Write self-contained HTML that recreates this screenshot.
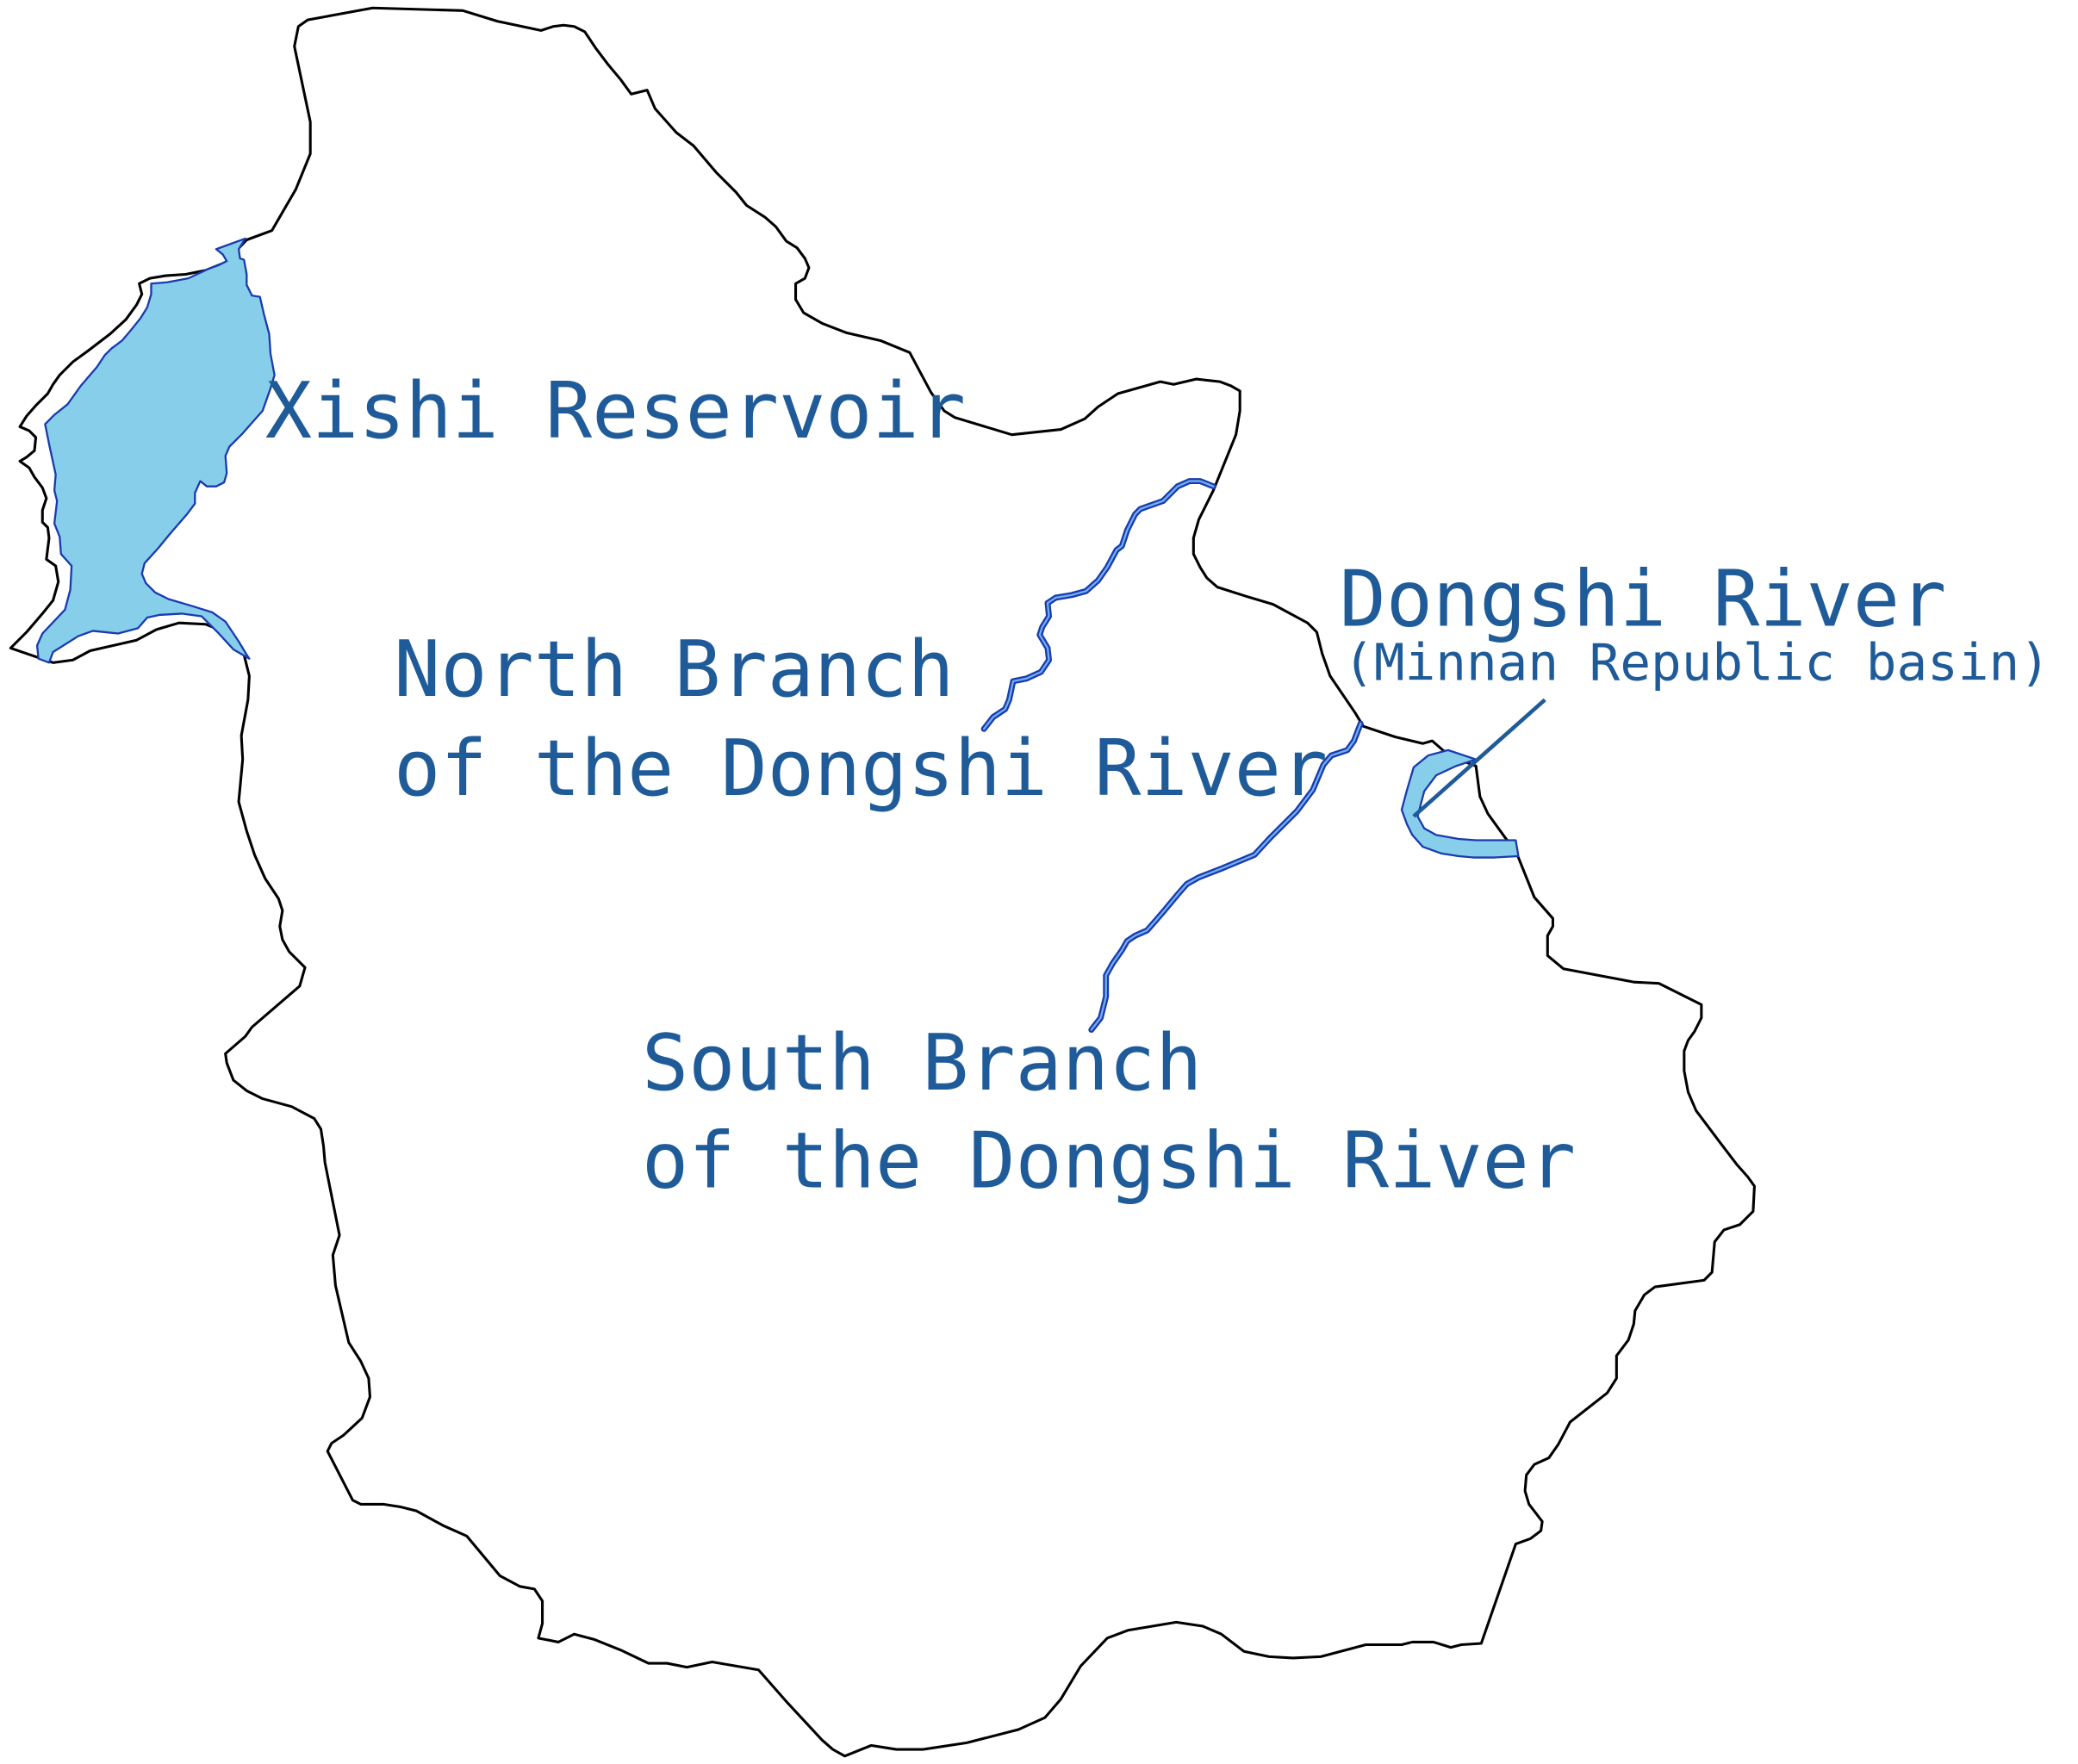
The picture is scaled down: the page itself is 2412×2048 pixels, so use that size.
<!DOCTYPE html>
<html><head><meta charset="utf-8"><style>
html,body{margin:0;padding:0;background:#fff;}
svg{display:block;}
text{font-family:"DejaVu Sans Mono","Liberation Mono",monospace;fill:#1f5b99;}
</style></head><body>
<svg width="2412" height="2048" viewBox="0 0 1567 1331" preserveAspectRatio="none" xmlns="http://www.w3.org/2000/svg">
<polygon fill="#fff" stroke="#000" stroke-width="2" stroke-linejoin="round" points="8,489 40,500 55,498 68,491 103,483 118,475 135,470 155,471 170,477 183,490 188,510 187,528 182,555 183,573 180,605 186,627 192,645 200,663 210,678 213,687 211,699 213,709 218,718 230,730 226,744 190,775 185,782 170,795 171,802 176,815 186,823 198,829 220,835 237,844 242,852 244,865 245,877 256,932 251,947 253,970 263,1013 272,1027 278,1040 279,1054 273,1070 259,1083 250,1089 247,1095 266,1132 272,1135 289,1135 302,1137 314,1140 334,1151 352,1159 377,1189 392,1197 403,1199 409,1208 409,1225 406,1236 421,1239 433,1233 448,1237 468,1245 489,1255 503,1255 518,1258 537,1254 572,1260 594,1285 620,1313 628,1320 637,1325 657,1317 676,1320 696,1320 729,1315 768,1305 788,1296 800,1282 815,1257 835,1236 851,1230 887,1224 907,1227 921,1233 938,1246 957,1250 975,1251 996,1250 1030,1241 1057,1241 1065,1239 1081,1239 1094,1243 1102,1241 1117,1240 1143,1165 1154,1161 1162,1155 1163,1148 1153,1135 1150,1125 1151,1113 1157,1105 1168,1100 1175,1090 1184,1073 1212,1051 1219,1040 1219,1023 1228,1011 1232,999 1233,989 1240,977 1248,971 1285,966 1291,960 1293,937 1300,928 1312,924 1322,914 1323,895 1318,888 1310,879 1297,862 1279,838 1273,824 1270,808 1270,793 1273,785 1278,778 1283,768 1283,758 1251,742 1232,741 1179,731 1167,721 1167,706 1171,699 1171,693 1157,677 1143,642 1135,632 1122,614 1116,601 1113,578 1100,573 1088,566 1080,559 1073,561 1052,556 1028,548 1022,538 1003,510 997,493 993,477 986,470 960,456 940,450 918,443 910,436 905,428 900,418 900,406 904,392 915,370 932,328 935,310 935,295 928,291 920,288 902,286 885,290 875,288 843,297 828,307 818,316 800,324 763,328 720,315 712,310 702,296 686,266 664,257 638,251 620,244 606,236 600,226 600,214 607,210 610,202 607,195 601,187 593,182 585,171 577,164 563,155 555,145 540,130 523,110 510,100 494,82 488,68 476,71 468,60 458,48 449,36 441,24 433,20 425,19 417,20 408,23 375,16 349,8 281,6 232,15 225,20 222,35 234,92 234,116 223,143 205,174 186,181 170,198 155,204 140,207 125,208 113,210 105,214 107,222 103,230 95,241 83,252 66,265 55,273 45,283 40,290 36,297 27,306 20,314 15,322 22,325 27,330 26,340 20,345 15,348 22,353 26,360 32,368 35,376 32,385 32,394 36,398 37,406 35,422 42,427 44,439 40,453 32,463 20,477"/>
<polygon fill="#87ceeb" stroke="#1a3ab0" stroke-width="1.5" stroke-linejoin="round" points="163,188 185,180 180,188 181,195 184,196 186,207 186,215 190,223 196,224 199,237 203,252 204,267 207,283 204,293 198,310 190,319 183,327 173,337 170,344 171,357 169,364 163,367 156,367 151,363 147,372 147,380 141,388 128,403 119,414 109,425 107,433 110,440 117,447 127,452 144,457 160,462 170,469 180,484 186,494 188,497 176,490 165,478 152,465 137,463 120,464 111,466 104,474 89,478 70,476 59,480 40,492 37,500 29,497 28,487 32,478 49,460 53,445 54,427 46,418 45,405 41,395 43,378 41,370 42,358 37,335 34,320 41,313 51,305 61,291 73,277 79,268 84,263 92,257 98,250 106,240 111,232 114,222 114,214 126,213 142,210 157,203 165,200 171,197 168,192"/>
<polygon fill="#87ceeb" stroke="#1a3ab0" stroke-width="1.5" stroke-linejoin="round" points="1092,566 1113,573 1098,578 1083,585 1074,597 1069,616 1074,625 1083,630 1100,633 1113,634 1143,634 1145,646 1127,647 1111,647 1100,646 1087,644 1073,639 1065,630 1061,622 1057,611 1061,596 1066,579 1077,570"/>
<g fill="none" stroke-linejoin="round" stroke-linecap="round">
<polyline stroke="#1a3ab0" stroke-width="4.5" points="742,550 749,541 758,535 761,528 764,514 774,512 785,507 791,498 790,489 784,479 786,473 791,465 790,455 796,451 808,449 819,446 828,438 835,428 842,415 846,412 850,400 856,388 860,384 877,378 888,367 897,363 905,363 915,367"/>
<polyline stroke="#6fb0ee" stroke-width="1.5" points="742,550 749,541 758,535 761,528 764,514 774,512 785,507 791,498 790,489 784,479 786,473 791,465 790,455 796,451 808,449 819,446 828,438 835,428 842,415 846,412 850,400 856,388 860,384 877,378 888,367 897,363 905,363 915,367"/>
<polyline stroke="#1a3ab0" stroke-width="4.5" points="823,777 830,768 834,752 834,736 839,727 846,717 850,710 856,706 865,702 872,694 878,687 888,675 895,667 904,662 922,655 946,645 958,632 978,612 990,596 998,577 1004,570 1016,566 1021,559 1026,546"/>
<polyline stroke="#6fb0ee" stroke-width="1.5" points="823,777 830,768 834,752 834,736 839,727 846,717 850,710 856,706 865,702 872,694 878,687 888,675 895,667 904,662 922,655 946,645 958,632 978,612 990,596 998,577 1004,570 1016,566 1021,559 1026,546"/>
</g>
<line x1="1165" y1="528" x2="1066" y2="616" stroke="#1f5b99" stroke-width="3"/>
<text x="200" y="330" font-size="58.5">Xishi Reservoir</text>
<text x="297" y="525" font-size="58.5">North Branch</text>
<text x="297" y="600" font-size="58.5">of the Dongshi River</text>
<text x="484" y="822" font-size="58.5">South Branch</text>
<text x="484" y="896" font-size="58.5">of the Dongshi River</text>
<text x="1010" y="472" font-size="58.5">Dongshi River</text>
<text x="1013" y="513" font-size="38.5">(Minnan Republic basin)</text>
</svg>
</body></html>
